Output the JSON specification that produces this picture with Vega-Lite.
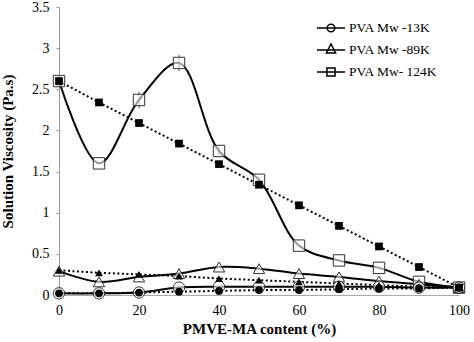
{
  "$schema": "https://vega.github.io/schema/vega-lite/v6.json",
  "width": 400,
  "height": 288,
  "autosize": {"type": "none"},
  "padding": {"left": 59, "top": 7, "right": 15, "bottom": 47},
  "background": "white",
  "config": {
    "view": {"stroke": null},
    "font": "Liberation Serif",
    "axis": {"labelFont": "Liberation Serif", "titleFont": "Liberation Serif", "labelColor": "black", "titleColor": "black", "grid": false},
    "legend": {"labelFont": "Liberation Serif"}
  },
  "resolve": {"scale": {"shape": "independent"}, "legend": {"shape": "independent"}},
  "datasets": {
    "pts": [
      {"x": 0, "v": 2.6, "series": "PVA Mw- 124K", "kind": "open"},
      {"x": 10, "v": 1.6, "series": "PVA Mw- 124K", "kind": "open"},
      {"x": 20, "v": 2.37, "series": "PVA Mw- 124K", "kind": "open"},
      {"x": 30, "v": 2.82, "series": "PVA Mw- 124K", "kind": "open"},
      {"x": 40, "v": 1.75, "series": "PVA Mw- 124K", "kind": "open"},
      {"x": 50, "v": 1.4, "series": "PVA Mw- 124K", "kind": "open"},
      {"x": 60, "v": 0.6, "series": "PVA Mw- 124K", "kind": "open"},
      {"x": 70, "v": 0.42, "series": "PVA Mw- 124K", "kind": "open"},
      {"x": 80, "v": 0.33, "series": "PVA Mw- 124K", "kind": "open"},
      {"x": 90, "v": 0.16, "series": "PVA Mw- 124K", "kind": "open"},
      {"x": 100, "v": 0.09, "series": "PVA Mw- 124K", "kind": "open"},
      {"x": 0, "v": 2.6, "series": "PVA Mw- 124K", "kind": "filled"},
      {"x": 10, "v": 2.34, "series": "PVA Mw- 124K", "kind": "filled"},
      {"x": 20, "v": 2.09, "series": "PVA Mw- 124K", "kind": "filled"},
      {"x": 30, "v": 1.84, "series": "PVA Mw- 124K", "kind": "filled"},
      {"x": 40, "v": 1.59, "series": "PVA Mw- 124K", "kind": "filled"},
      {"x": 50, "v": 1.34, "series": "PVA Mw- 124K", "kind": "filled"},
      {"x": 60, "v": 1.09, "series": "PVA Mw- 124K", "kind": "filled"},
      {"x": 70, "v": 0.84, "series": "PVA Mw- 124K", "kind": "filled"},
      {"x": 80, "v": 0.59, "series": "PVA Mw- 124K", "kind": "filled"},
      {"x": 90, "v": 0.34, "series": "PVA Mw- 124K", "kind": "filled"},
      {"x": 100, "v": 0.09, "series": "PVA Mw- 124K", "kind": "filled"},
      {"x": 0, "v": 0.29, "series": "PVA Mw -89K", "kind": "open"},
      {"x": 10, "v": 0.16, "series": "PVA Mw -89K", "kind": "open"},
      {"x": 20, "v": 0.22, "series": "PVA Mw -89K", "kind": "open"},
      {"x": 30, "v": 0.26, "series": "PVA Mw -89K", "kind": "open"},
      {"x": 40, "v": 0.34, "series": "PVA Mw -89K", "kind": "open"},
      {"x": 50, "v": 0.32, "series": "PVA Mw -89K", "kind": "open"},
      {"x": 60, "v": 0.26, "series": "PVA Mw -89K", "kind": "open"},
      {"x": 70, "v": 0.22, "series": "PVA Mw -89K", "kind": "open"},
      {"x": 80, "v": 0.17, "series": "PVA Mw -89K", "kind": "open"},
      {"x": 90, "v": 0.13, "series": "PVA Mw -89K", "kind": "open"},
      {"x": 100, "v": 0.09, "series": "PVA Mw -89K", "kind": "open"},
      {"x": 0, "v": 0.3, "series": "PVA Mw -89K", "kind": "filled"},
      {"x": 10, "v": 0.27, "series": "PVA Mw -89K", "kind": "filled"},
      {"x": 20, "v": 0.25, "series": "PVA Mw -89K", "kind": "filled"},
      {"x": 30, "v": 0.23, "series": "PVA Mw -89K", "kind": "filled"},
      {"x": 40, "v": 0.2, "series": "PVA Mw -89K", "kind": "filled"},
      {"x": 50, "v": 0.18, "series": "PVA Mw -89K", "kind": "filled"},
      {"x": 60, "v": 0.16, "series": "PVA Mw -89K", "kind": "filled"},
      {"x": 70, "v": 0.14, "series": "PVA Mw -89K", "kind": "filled"},
      {"x": 80, "v": 0.12, "series": "PVA Mw -89K", "kind": "filled"},
      {"x": 90, "v": 0.1, "series": "PVA Mw -89K", "kind": "filled"},
      {"x": 100, "v": 0.09, "series": "PVA Mw -89K", "kind": "filled"},
      {"x": 0, "v": 0.02, "series": "PVA Mw -13K", "kind": "open"},
      {"x": 10, "v": 0.02, "series": "PVA Mw -13K", "kind": "open"},
      {"x": 20, "v": 0.03, "series": "PVA Mw -13K", "kind": "open"},
      {"x": 30, "v": 0.09, "series": "PVA Mw -13K", "kind": "open"},
      {"x": 40, "v": 0.1, "series": "PVA Mw -13K", "kind": "open"},
      {"x": 50, "v": 0.1, "series": "PVA Mw -13K", "kind": "open"},
      {"x": 60, "v": 0.1, "series": "PVA Mw -13K", "kind": "open"},
      {"x": 70, "v": 0.1, "series": "PVA Mw -13K", "kind": "open"},
      {"x": 80, "v": 0.1, "series": "PVA Mw -13K", "kind": "open"},
      {"x": 90, "v": 0.09, "series": "PVA Mw -13K", "kind": "open"},
      {"x": 100, "v": 0.09, "series": "PVA Mw -13K", "kind": "open"},
      {"x": 0, "v": 0.02, "series": "PVA Mw -13K", "kind": "filled"},
      {"x": 10, "v": 0.02, "series": "PVA Mw -13K", "kind": "filled"},
      {"x": 20, "v": 0.03, "series": "PVA Mw -13K", "kind": "filled"},
      {"x": 30, "v": 0.04, "series": "PVA Mw -13K", "kind": "filled"},
      {"x": 40, "v": 0.05, "series": "PVA Mw -13K", "kind": "filled"},
      {"x": 50, "v": 0.06, "series": "PVA Mw -13K", "kind": "filled"},
      {"x": 60, "v": 0.06, "series": "PVA Mw -13K", "kind": "filled"},
      {"x": 70, "v": 0.07, "series": "PVA Mw -13K", "kind": "filled"},
      {"x": 80, "v": 0.08, "series": "PVA Mw -13K", "kind": "filled"},
      {"x": 90, "v": 0.08, "series": "PVA Mw -13K", "kind": "filled"},
      {"x": 100, "v": 0.09, "series": "PVA Mw -13K", "kind": "filled"}
    ],
    "errs": [
      {"x": 0, "lo": 2.53, "hi": 2.67},
      {"x": 20, "lo": 2.27, "hi": 2.47},
      {"x": 30, "lo": 2.72, "hi": 2.92},
      {"x": 40, "lo": 1.7, "hi": 1.8}
    ]
  },
  "layer": [
    {
      "data": {"name": "errs"},
      "mark": {"type": "rule", "color": "#555", "strokeWidth": 1},
      "encoding": {
        "x": {"field": "x", "type": "quantitative"},
        "y": {"field": "lo", "type": "quantitative"},
        "y2": {"field": "hi"}
      }
    },
    {
      "data": {"name": "pts"},
      "transform": [{"filter": "datum.kind === 'filled'"}],
      "mark": {"type": "line", "color": "black", "strokeWidth": 2, "strokeDash": [2, 2.5]},
      "encoding": {
        "x": {"field": "x", "type": "quantitative"},
        "y": {"field": "v", "type": "quantitative"},
        "detail": {"field": "series"}
      }
    },
    {
      "data": {"name": "pts"},
      "transform": [{"filter": "datum.kind === 'open'"}],
      "mark": {"type": "line", "color": "black", "strokeWidth": 2, "interpolate": "catmull-rom"},
      "encoding": {
        "x": {"field": "x", "type": "quantitative"},
        "y": {"field": "v", "type": "quantitative"},
        "detail": {"field": "series"}
      }
    },
    {
      "data": {"name": "pts"},
      "transform": [{"filter": "datum.kind === 'open'"}],
      "mark": {"type": "point", "filled": false, "color": "black", "strokeWidth": 1.5, "opacity": 1, "size": 0},
      "encoding": {
        "x": {"field": "x", "type": "quantitative"},
        "y": {"field": "v", "type": "quantitative"},
        "shape": {
          "field": "series", "type": "nominal",
          "scale": {"domain": ["PVA Mw -13K", "PVA Mw -89K", "PVA Mw- 124K"], "range": ["M-1,0H1M-0.27,0A0.27,0.27 0 1,1 0.27,0A0.27,0.27 0 1,1 -0.27,0Z", "M-1,0H1M0,-0.43L0.33,0.21L-0.33,0.21Z", "M-1,0H1M-0.29,-0.29H0.29V0.29H-0.29Z"]},
          "legend": {
            "title": null, "orient": "none", "legendX": 257, "legendY": 6,
            "labelFontSize": 13.5, "labelColor": "black",
            "symbolSize": 784, "labelOffset": 3, "rowPadding": -0.5
          }
        }
      }
    },
    {
      "data": {"name": "pts"},
      "transform": [{"filter": "datum.kind === 'open'"}],
      "mark": {"type": "point", "filled": true, "fill": "white", "fillOpacity": 0.6, "stroke": "#333", "strokeWidth": 1, "opacity": 1, "size": 130},
      "encoding": {
        "x": {"field": "x", "type": "quantitative"},
        "y": {"field": "v", "type": "quantitative"},
        "shape": {
          "field": "series", "type": "nominal",
          "scale": {"domain": ["PVA Mw -13K", "PVA Mw -89K", "PVA Mw- 124K"], "range": ["circle", "triangle-up", "square"]},
          "legend": null
        }
      }
    },
    {
      "data": {"name": "pts"},
      "transform": [{"filter": "datum.kind === 'filled'"}],
      "mark": {"type": "point", "filled": true, "color": "black", "opacity": 1, "size": 60},
      "encoding": {
        "x": {
          "field": "x", "type": "quantitative",
          "scale": {"domain": [0, 100], "nice": false, "zero": false},
          "axis": {"values": [0, 20, 40, 60, 80, 100], "title": "PMVE-MA content (%)", "titleFont": "Liberation Serif", "labelFont": "Liberation Serif", "titleFontSize": 15, "titleFontWeight": "bold", "titlePadding": 4, "labelFontSize": 14, "labelPadding": 8, "ticks": false, "domain": true, "domainColor": "#aaa", "labelFlush": false}
        },
        "y": {
          "field": "v", "type": "quantitative",
          "scale": {"domain": [0, 3.5], "nice": false},
          "axis": {"values": [0, 0.5, 1, 1.5, 2, 2.5, 3, 3.5], "format": "~g", "title": "Solution Viscosity (Pa.s)", "titleFont": "Liberation Serif", "labelFont": "Liberation Serif", "titleFontSize": 15, "titleFontWeight": "bold", "titlePadding": 16, "labelFontSize": 14, "labelPadding": 7, "tickSize": 3, "tickColor": "#999", "domainColor": "#999", "labelFlush": false}
        },
        "shape": {
          "field": "series", "type": "nominal",
          "scale": {"domain": ["PVA Mw -13K", "PVA Mw -89K", "PVA Mw- 124K"], "range": ["circle", "triangle-up", "square"]},
          "legend": null
        }
      }
    }
  ]
}
